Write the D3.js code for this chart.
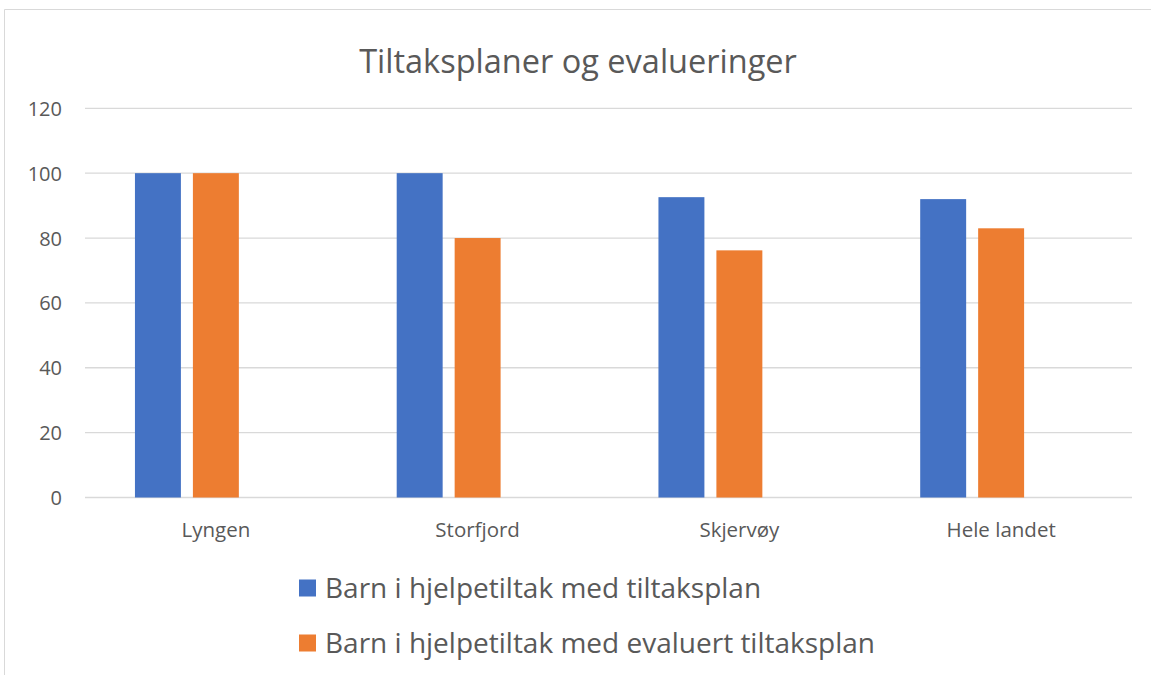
<!DOCTYPE html>
<html>
<head>
<meta charset="utf-8">
<script src="https://cdn.jsdelivr.net/npm/d3@7"></script>
<style>
  html, body { margin: 0; padding: 0; background: #fff; }
  svg { display: block; }
  text { font-family: "Open Sans", "Noto Sans", sans-serif; fill: #595959; }
</style>
</head>
<body>
<svg id="chart" width="1151" height="675"></svg>
<script>
// Chart data
const title = "Tiltaksplaner og evalueringer";
const categories = ["Lyngen", "Storfjord", "Skjervøy", "Hele landet"];
const seriesNames = [
  "Barn i hjelpetiltak med tiltaksplan",
  "Barn i hjelpetiltak med evaluert tiltaksplan"
];
const withPlan = [100, 100, 92.6, 92.0];
const evaluatedPlan = [100, 80, 76.2, 83.0];
const yTicks = [0, 20, 40, 60, 80, 100, 120];
const colors = ["#4472C4", "#ED7D31"];

const seriesValues = [withPlan, evaluatedPlan];

const svg = d3.select("#chart");
const W = 1151, H = 675;
const plot = { left: 85, right: 1132, top: 108.3, bottom: 497.5 };

// Chart area frame (top and left edges visible)
svg.append("line").attr("x1", 4.5).attr("x2", W).attr("y1", 9.5).attr("y2", 9.5)
  .attr("stroke", "#d9d9d9").attr("stroke-width", 1);
svg.append("line").attr("x1", 4.5).attr("x2", 4.5).attr("y1", 9.5).attr("y2", H)
  .attr("stroke", "#d9d9d9").attr("stroke-width", 1);

// Scales
const x0 = d3.scaleBand().domain(categories).range([plot.left, plot.right])
  .paddingInner(0).paddingOuter(0);
// Each cluster reserves three slots; only the first two carry data
const x1 = d3.scaleBand().domain([0, 1, 2]).range([0, x0.bandwidth()])
  .paddingInner(0.207).paddingOuter(0.862);
const y = d3.scaleLinear().domain([0, 120]).range([plot.bottom, plot.top]);

// Gridlines
svg.append("g")
  .selectAll("line").data(yTicks).join("line")
  .attr("x1", plot.left).attr("x2", plot.right)
  .attr("y1", d => y(d)).attr("y2", d => y(d))
  .attr("stroke", "#d9d9d9").attr("stroke-width", 1.3);

// Y axis labels
const yAxis = d3.axisLeft(y).tickValues(yTicks).tickSize(0).tickPadding(0);
const yG = svg.append("g").attr("transform", `translate(62,0)`).call(yAxis);
yG.select(".domain").remove();
yG.selectAll("text").attr("font-size", 20).attr("fill", "#595959")
  .attr("font-family", "Open Sans, sans-serif").attr("dy", "0.35em");

// Bars
seriesValues.forEach((vals, s) => {
  svg.append("g").selectAll("rect").data(categories).join("rect")
    .attr("x", (c) => x0(c) + x1(s))
    .attr("width", x1.bandwidth())
    .attr("y", (c, i) => y(vals[i]))
    .attr("height", (c, i) => y(0) - y(vals[i]))
    .attr("fill", colors[s]);
});

// Category labels
const xAxis = d3.axisBottom(x0).tickSize(0).tickPadding(0);
const xG = svg.append("g").attr("transform", `translate(0,537)`).call(xAxis);
xG.select(".domain").remove();
xG.selectAll("text").attr("font-size", 20.5).attr("fill", "#595959")
  .attr("font-family", "Open Sans, sans-serif").attr("dy", 0);

// Title
svg.append("text").attr("x", 578).attr("y", 73).attr("text-anchor", "middle")
  .attr("font-size", 32.5).text(title);

// Legend
const legend = svg.append("g");
const legendRows = legend.selectAll("g").data(seriesNames).join("g")
  .attr("transform", (d, i) => `translate(299, ${588 + i * 55})`);
legendRows.append("rect").attr("x", 0).attr("y", -8.5).attr("width", 17).attr("height", 17)
  .attr("fill", (d, i) => colors[i]);
legendRows.append("text").attr("x", 26).attr("y", 0).attr("dy", "0.36em")
  .attr("font-size", 28).text(d => d);
</script>
</body>
</html>
